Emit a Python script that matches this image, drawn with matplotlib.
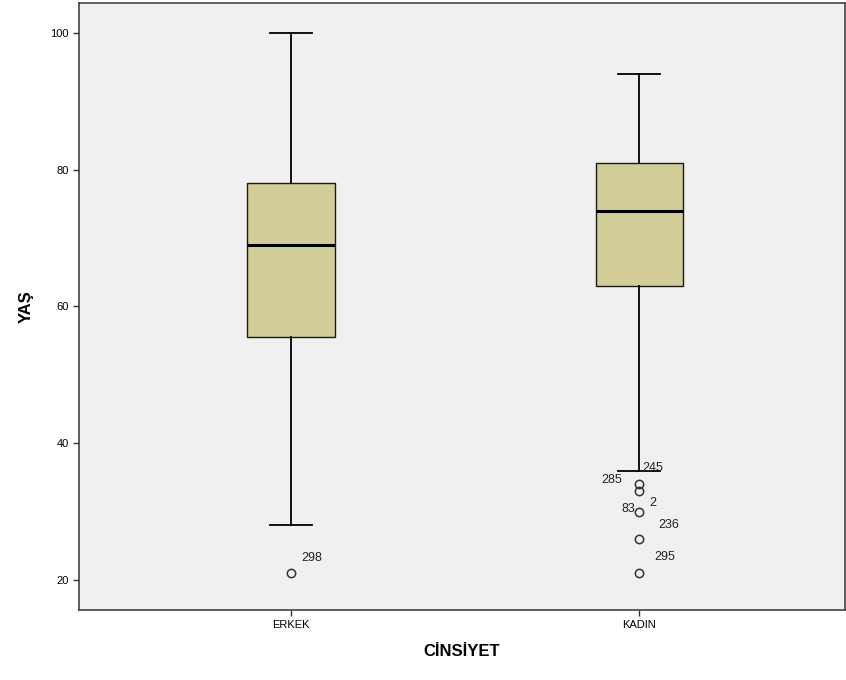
import matplotlib
matplotlib.use("Agg")
import matplotlib.pyplot as plt

plt.rcParams['font.family'] = ['Liberation Sans', 'DejaVu Sans']

# veriler
groups = ['ERKEK', 'KADIN']
whislo = [28, 36]
q1 = [55.5, 63]
med = [69, 74]
q3 = [78, 81]
whishi = [100, 94]
outliers = [[21], [34, 33, 30, 26, 21]]
outlier_ids = [['298'], ['245', '285', '2', '83', '236', '295']]
# etiketlerin yeri (x kaydirma, y degeri)
label_pos = [[(0.03, 23.2, 'left')],
             [(0.01, 36.3, 'left'), (-0.05, 34.6, 'right'), (0.03, 31.3, 'left'),
              (-0.01, 30.4, 'right'), (0.055, 28.0, 'left'), (0.045, 23.3, 'left')]]

stats = []
for i in range(len(groups)):
    stats.append({'label': groups[i], 'whislo': whislo[i], 'q1': q1[i], 'med': med[i],
                  'q3': q3[i], 'whishi': whishi[i], 'fliers': outliers[i]})

fig = plt.figure(figsize=(8.46, 6.8), dpi=100)
ax = fig.add_axes([0.0934, 0.103, 0.9056, 0.8926])
ax.set_facecolor('#f0f0f0')

ax.bxp(stats, positions=[1, 2], widths=0.25, patch_artist=True,
       boxprops=dict(facecolor='#d3ce97', edgecolor='#1a1a1a', linewidth=1),
       medianprops=dict(color='black', linewidth=2.2),
       whiskerprops=dict(color='black', linewidth=1.3),
       capprops=dict(color='black', linewidth=1.3),
       capwidths=0.12,
       flierprops=dict(marker='o', markersize=6, markerfacecolor='none',
                       markeredgecolor='#333333', markeredgewidth=1.1))

for i in range(len(groups)):
    for j, lab in enumerate(outlier_ids[i]):
        dx, yy, ha = label_pos[i][j]
        ax.text(i + 1 + dx, yy, lab, fontsize=9, ha=ha, va='center', color='#222222')

ax.set_xlim(0.391, 2.592)
ax.set_ylim(15.6, 104.4)
ax.set_yticks([20, 40, 60, 80, 100])
ax.set_xticks([1, 2])
ax.set_xticklabels(groups)
ax.tick_params(labelsize=8, length=4, color='#333333', width=1)
ax.set_ylabel('YAŞ', fontsize=12, fontweight='bold', labelpad=12)
ax.set_xlabel('CİNSİYET', fontsize=12, fontweight='bold', labelpad=10)
for s in ax.spines.values():
    s.set_color('#444444')
    s.set_linewidth(1.2)

fig.savefig('out.png', dpi=100)
